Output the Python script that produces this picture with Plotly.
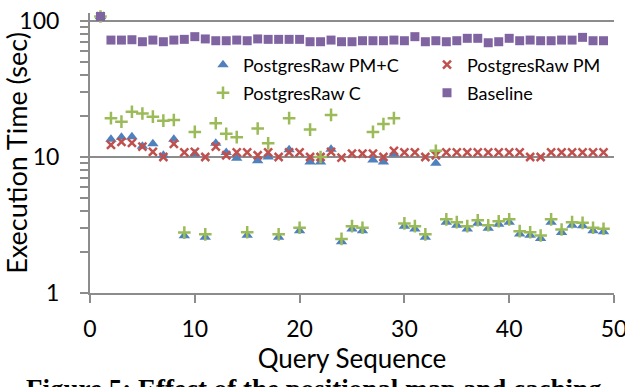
import plotly.graph_objects as go

queries = list(range(1, 50))

pm_c = [108, 13.5, 14.0, 14.1, 12.0, 12.5, 10.3, 13.5, 2.64, 10.5,
        2.57, 12.6, 10.8, 9.8, 2.66, 9.4, 10.0, 2.57, 11.3, 2.87,
        9.2, 9.2, 11.4, 2.38, 2.95, 2.87, 9.5, 9.2, 10.5, 3.09,
        2.95, 2.57, 9.0, 3.31, 3.15, 2.95, 3.26, 2.99, 3.2, 3.31,
        2.71, 2.66, 2.52, 3.31, 2.78, 3.15, 3.12, 2.87, 2.82]

pm = [108, 12.3, 12.9, 12.7, 11.9, 10.9, 10.0, 12.5, 10.8, 10.9,
      10.0, 11.9, 10.3, 10.8, 10.8, 10.3, 10.8, 10.0, 10.8, 10.8,
      10.0, 10.0, 10.9, 9.9, 10.6, 10.6, 10.6, 10.0, 11.1, 10.8,
      10.8, 10.0, 10.3, 10.8, 10.8, 10.8, 10.8, 10.8, 10.8, 10.8,
      10.8, 10.0, 10.0, 10.8, 10.8, 10.8, 10.8, 10.8, 10.8]

c_only = [108, 19.3, 18.2, 21.5, 20.9, 19.8, 18.5, 18.7, 2.78, 15.3,
          2.70, 17.7, 14.8, 14.0, 2.80, 16.2, 12.6, 2.70, 19.3, 3.02,
          15.9, 10.0, 20.4, 2.50, 3.10, 3.02, 15.3, 17.5, 19.3, 3.25,
          3.10, 2.70, 11.1, 3.48, 3.32, 3.10, 3.43, 3.15, 3.37, 3.48,
          2.85, 2.80, 2.65, 3.48, 2.93, 3.32, 3.28, 3.02, 2.97]

baseline = [108, 72.4, 72.4, 72.8, 70.4, 72.4, 70.4, 72.4, 73.3, 76.7,
            73.8, 71.6, 71.6, 72.4, 71.6, 73.8, 73.3, 73.3, 73.3, 73.3,
            70.4, 70.4, 72.4, 70.4, 70.4, 71.6, 71.6, 71.6, 72.4, 71.6,
            76.7, 70.4, 71.6, 70.4, 71.6, 74.6, 74.6, 69.2, 70.4, 74.6,
            71.6, 72.4, 71.6, 71.6, 72.4, 72.4, 75.8, 71.6, 71.6]

x_ticks = [0, 10, 20, 30, 40, 50]
y_ticks = [1, 10, 100]
y_tick_labels = ["1", "10", "100"]

FONT = "Lato"
GRID = "#8c8c8c"

series = [
    ("PostgresRaw PM+C", pm_c, "triangle-up", "#4F81BD", 10, "legend"),
    ("PostgresRaw PM", pm, "x-thin-open", "#C0504D", 8, "legend2"),
    ("PostgresRaw C", c_only, "cross-thin-open", "#9BBB59", 9, "legend3"),
    ("Baseline", baseline, "square", "#8064A2", 9, "legend4"),
]

fig = go.Figure()
for name, vals, sym, col, size, leg in series:
    fig.add_trace(go.Scatter(
        x=queries, y=vals, mode="markers", name=name, legend=leg,
        cliponaxis=False, showlegend=True,
        marker=dict(symbol=sym, color=col, size=size,
                    line=dict(color=col, width=2.5 if "thin" in sym else 0)),
    ))

# plot area: y from 13 px (top) to 293 px (value 1); 136 px per decade
Y_TOP = 2 + 8 / 136.0

def px_to_paper_x(px):
    return (px - 90) / 524.0

def px_to_paper_y(py):
    return (293 - py) / 280.0

leg_common = dict(bgcolor="rgba(0,0,0,0)", borderwidth=0, visible=True,
                  font=dict(family=FONT, size=18, color="#000"),
                  xanchor="left", yanchor="middle", itemwidth=30)
fig.update_layout(
    template="none",
    showlegend=True,
    legend=dict(x=px_to_paper_x(203), y=px_to_paper_y(65), **leg_common),
    legend2=dict(x=px_to_paper_x(427), y=px_to_paper_y(65), **leg_common),
    legend3=dict(x=px_to_paper_x(203), y=px_to_paper_y(93), **leg_common),
    legend4=dict(x=px_to_paper_x(427), y=px_to_paper_y(93), **leg_common),
)

fig.update_layout(
    width=625, height=387,
    margin=dict(l=90, r=11, t=13, b=94),
    paper_bgcolor="white", plot_bgcolor="white",
    font=dict(family=FONT, color="#000"),
    xaxis=dict(
        range=[0, 50], tickvals=x_ticks, ticktext=[str(v) for v in x_ticks],
        automargin=False, ticklabeloverflow="allow",
        showline=True, linecolor=GRID, linewidth=2,
        ticks="outside", ticklen=8, tickcolor=GRID, tickwidth=2,
        showgrid=False, zeroline=False,
        tickfont=dict(family=FONT, size=23, color="#000"),
        ticklabelstandoff=6,
        title=dict(text="Query Sequence", font=dict(family=FONT, size=26, color="#000"),
                   standoff=0),
    ),
    yaxis=dict(
        type="log", range=[0, Y_TOP], tickvals=y_ticks, ticktext=y_tick_labels,
        automargin=False, ticklabeloverflow="allow",
        showline=True, linecolor=GRID, linewidth=2,
        ticks="outside", ticklen=8, tickcolor=GRID, tickwidth=2,
        showgrid=True, gridcolor=GRID, gridwidth=2, zeroline=False,
        minor=dict(ticks="outside", ticklen=8, tickcolor=GRID, tickwidth=1.5,
                   dtick="D1", showgrid=False),
        tickfont=dict(family=FONT, size=23, color="#000"),
        ticklabelstandoff=16,
        title=dict(text="Execution Time (sec)", font=dict(family=FONT, size=27, color="#000"),
                   standoff=4),
    ),
    annotations=[dict(
        text="<b>Figure 5: Effect of the positional map and caching</b>",
        xref="paper", yref="paper", x=px_to_paper_x(314), y=px_to_paper_y(372),
        xanchor="center", yanchor="top", showarrow=False,
        font=dict(family="Liberation Serif", size=27, color="#000"),
    )],
)

fig.write_html("out.html")
